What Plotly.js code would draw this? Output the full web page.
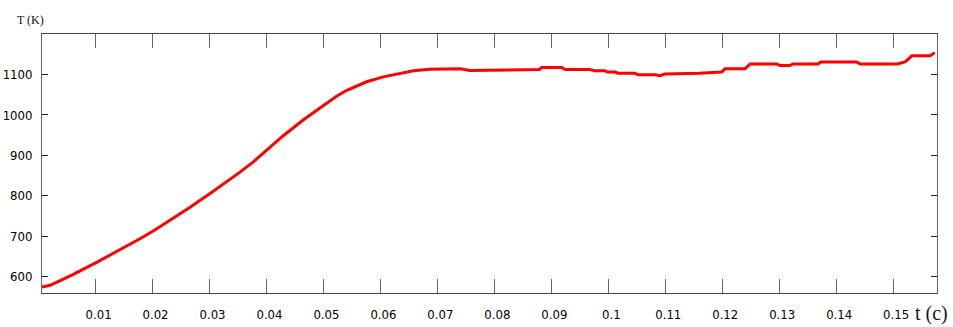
<!DOCTYPE html>
<html>
<head>
<meta charset="utf-8">
<script src="https://cdn.plot.ly/plotly-3.0.1.min.js"></script>
<style>
  html, body { margin: 0; padding: 0; background: #fff; }
  #chart { width: 953px; height: 327px; }
</style>
</head>
<body>
<div id="chart"></div>
<script>
// time, s
var timeS = [0.0006, 0.0020, 0.0037, 0.0061, 0.0101, 0.0137, 0.0178, 0.0202, 0.0236, 0.0266,
  0.0301, 0.0330, 0.0353, 0.0377, 0.0400, 0.0429, 0.0465, 0.0500, 0.0523, 0.0541,
  0.0576, 0.0605, 0.0628, 0.0658, 0.0687, 0.0740, 0.0757, 0.0879, 0.0883, 0.0919,
  0.0924, 0.0968, 0.0976, 0.0994, 0.0999, 0.1012, 0.1017, 0.1047, 0.1052, 0.1082,
  0.1091, 0.1099, 0.1160, 0.1199, 0.1205, 0.1240, 0.1249, 0.1296, 0.1301, 0.1319,
  0.1324, 0.1368, 0.1373, 0.1436, 0.1442, 0.1507, 0.1521, 0.1533, 0.1565, 0.1573];
// temperature, K
var tempK = [575, 579, 590, 606, 635, 662, 694, 714, 744, 772,
  806, 834, 858, 884, 912, 948, 988, 1024, 1046, 1061,
  1082, 1094, 1101, 1109, 1113, 1114, 1110, 1112, 1117, 1117,
  1112, 1112, 1109, 1109, 1106, 1106, 1103, 1103, 1099, 1099,
  1097, 1101, 1103, 1106, 1114, 1114, 1126, 1126, 1122, 1122,
  1126, 1126, 1131, 1131, 1126, 1126, 1131, 1146, 1146, 1154];

var xTickVals = [0.01, 0.02, 0.03, 0.04, 0.05, 0.06, 0.07, 0.08, 0.09, 0.10, 0.11, 0.12, 0.13, 0.14, 0.15];
var xTickText = ["0.01", "0.02", "0.03", "0.04", "0.05", "0.06", "0.07", "0.08", "0.09", "0.1", "0.11", "0.12", "0.13", "0.14", "0.15"];
var yTickVals = [600, 700, 800, 900, 1000, 1100];
var yTickText = ["600", "700", "800", "900", "1000", "1100"];

var tickFont = { family: "'Liberation Sans Narrow', 'DejaVu Sans Condensed', 'Arial Narrow', sans-serif", size: 13, color: '#000' };

var trace = {
  x: timeS, y: tempK,
  type: 'scatter', mode: 'lines',
  line: { color: '#ff0000', width: 3, shape: 'linear' },
  hoverinfo: 'skip'
};

var layout = {
  width: 953, height: 327,
  margin: { l: 42, r: 16, t: 34, b: 34, pad: 0 },
  paper_bgcolor: '#fff', plot_bgcolor: '#fff',
  showlegend: false,
  xaxis: {
    range: [0.0006, 0.1577],
    tickmode: 'array', tickvals: xTickVals, ticktext: xTickText,
    ticks: 'inside', ticklen: 14, tickwidth: 1, tickcolor: '#666',
    showline: true, linecolor: '#444', linewidth: 1, mirror: 'ticks',
    showgrid: false, zeroline: false,
    tickfont: tickFont, ticklabelstandoff: 9, ticklabelshift: 3
  },
  yaxis: {
    range: [560, 1200],
    tickmode: 'array', tickvals: yTickVals, ticktext: yTickText,
    ticks: 'inside', ticklen: 6, tickwidth: 1, tickcolor: '#222',
    showline: true, linecolor: '#666', linewidth: 1, mirror: 'ticks',
    showgrid: false, zeroline: false,
    tickfont: tickFont, ticklabelstandoff: 6
  },
  annotations: [
    { text: 'T (K)', xref: 'paper', yref: 'paper', x: -0.013, y: 1.0, yshift: 14,
      xanchor: 'center', yanchor: 'middle', showarrow: false,
      font: { family: "'Liberation Serif', 'DejaVu Serif', serif", size: 12, color: '#111' } },
    { text: 't (c)', xref: 'paper', yref: 'paper', x: 1.0, y: 0, yshift: -20, xshift: 13,
      xanchor: 'right', yanchor: 'middle', showarrow: false,
      font: { family: "'Liberation Serif', 'DejaVu Serif', serif", size: 20, color: '#14143a' } }
  ]
};

Plotly.newPlot('chart', [trace], layout, { displayModeBar: false, staticPlot: true });
</script>
</body>
</html>
